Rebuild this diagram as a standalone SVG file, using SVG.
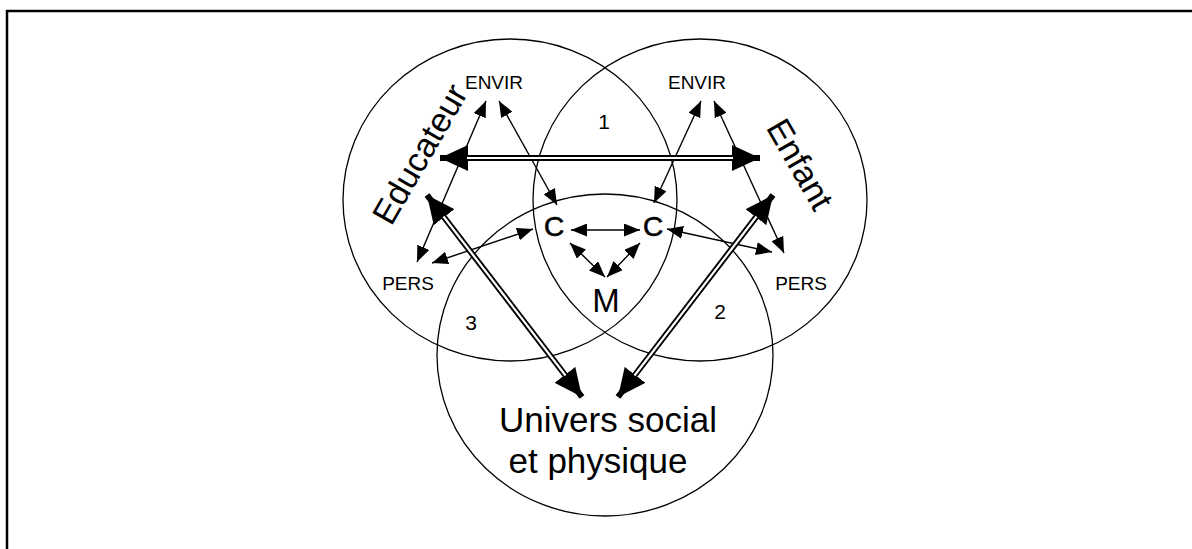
<svg xmlns="http://www.w3.org/2000/svg" width="1192" height="549" viewBox="0 0 1192 549">
<style>
text{font-family:"Liberation Sans",Arial,sans-serif;fill:#000}
.c{fill:none;stroke:#000;stroke-width:1.3}
.t{fill:none;stroke:#000;stroke-width:1.4;marker-start:url(#ah);marker-end:url(#ah)}
.db{fill:none;stroke:#000;stroke-width:6;marker-start:url(#bh);marker-end:url(#bh)}
.dw{fill:none;stroke:#fff;stroke-width:2.2}
.s{font-size:19px}
.n{font-size:21px}
.cc{font-size:28px;stroke:#000;stroke-width:0.6}
</style>
<defs>
<marker id="ah" viewBox="0 0 16 13" refX="16" refY="6.5" markerWidth="16" markerHeight="13" markerUnits="userSpaceOnUse" orient="auto-start-reverse"><path d="M0,0 L16,6.5 L0,13 z" fill="#000"/></marker>
<marker id="bh" viewBox="0 0 28 26" refX="28" refY="13" markerWidth="28" markerHeight="26" markerUnits="userSpaceOnUse" orient="auto-start-reverse"><path d="M0,0 L28,13 L0,26 z" fill="#000"/></marker>
</defs>
<rect x="0" y="0" width="1192" height="549" fill="#fff"/>
<rect x="7" y="11" width="1200" height="560" fill="none" stroke="#000" stroke-width="2.5"/>
<g id="circle-educateur"><ellipse class="c" cx="510" cy="200" rx="167" ry="161"/>
<text x="430" y="160" font-size="34" text-anchor="middle" transform="rotate(-60 430 160)">Educateur</text>
<text class="s" x="494" y="89" text-anchor="middle">ENVIR</text>
<text class="s" x="408" y="290" text-anchor="middle">PERS</text></g>
<g id="circle-enfant"><ellipse class="c" cx="700" cy="200" rx="167" ry="161"/>
<text x="790" y="170" font-size="34" text-anchor="middle" transform="rotate(60 790 170)">Enfant</text>
<text class="s" x="697" y="89" text-anchor="middle">ENVIR</text>
<text class="s" x="801" y="290" text-anchor="middle">PERS</text></g>
<g id="circle-univers"><ellipse class="c" cx="605" cy="355" rx="168" ry="161"/>
<text x="608" y="432" font-size="35" text-anchor="middle">Univers social</text>
<text x="598" y="473" font-size="35" text-anchor="middle">et physique</text></g>
<g id="center"><text class="cc" x="554" y="236" text-anchor="middle">C</text>
<text class="cc" x="653" y="236" text-anchor="middle">C</text>
<text x="606" y="312" font-size="33" text-anchor="middle">M</text></g>
<g id="zones"><text class="n" x="604" y="129" text-anchor="middle">1</text>
<text class="n" x="720" y="319" text-anchor="middle">2</text>
<text class="n" x="471" y="330" text-anchor="middle">3</text></g>
<g id="connectors">
<path class="t" d="M486,101 L417,262"/>
<path class="t" d="M499,101 L557,205"/>
<path class="t" d="M701,101 L654,203"/>
<path class="t" d="M714,101 L784,253"/>
<path class="t" d="M432,263 L533,229"/>
<path class="t" d="M667,229 L772,252"/>
<path class="t" d="M571,230 L640,230"/>
<path class="t" d="M570,243 L605,277"/>
<path class="t" d="M640,243 L607,277"/>
<path class="db" d="M440,158 L760,158"/>
<path class="dw" d="M467,158 L733,158"/>
<path class="db" d="M427,195 L582,397"/>
<path class="dw" d="M443.5,216.5 L565.5,375.5"/>
<path class="db" d="M773,195 L618,397"/>
<path class="dw" d="M756.5,216.5 L634.5,375.5"/>
</g>
</svg>
